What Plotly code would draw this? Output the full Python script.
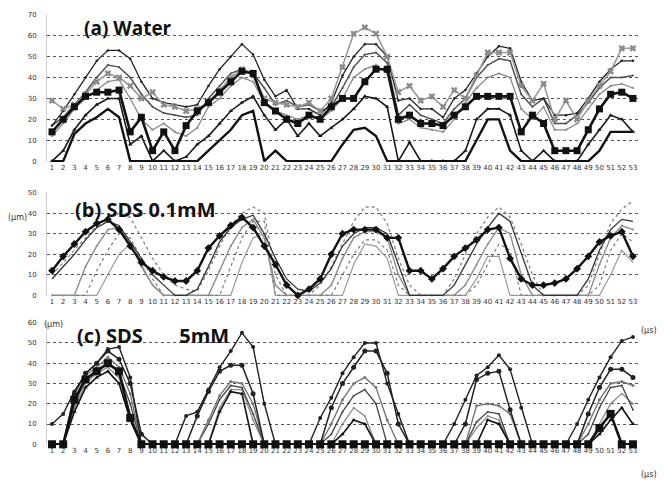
import plotly.graph_objects as go

# ---------------- data ----------------
x_vals = list(range(1, 54))
x_labels = [str(i) for i in x_vals]

# (a) Water  (μm)
a1 = [17,24,32,40,48,53,53,49,38,30,28,27,26,27,
      36,44,50,56,51,39,31,34,25,25,22,28,41,
      50,56,56,50,29,30,25,25,21,30,34,
      42,50,55,54,38,29,30,22,22,23,
      30,38,44,48,48]
a2 = [29,25,27,32,38,42,40,36,30,33,27,26,24,25,
      28,34,40,44,42,30,28,27,26,28,24,30,45,
      61,64,61,50,33,36,29,31,26,34,30,
      41,52,52,52,36,29,37,20,29,20,
      29,36,43,54,54]
a3 = [17,21,27,33,40,46,45,40,32,26,23,22,21,22,
      30,36,42,44,42,35,27,29,26,27,24,26,35,
      45,51,52,47,22,27,22,20,18,25,30,
      40,46,49,48,32,26,30,18,18,22,
      28,35,40,40,41]
a4 = [14,20,26,31,33,33,34,14,21,5,14,5,17,24,
      28,33,38,43,42,28,24,20,18,22,20,26,30,
      30,38,44,44,20,22,18,18,17,22,26,
      31,31,31,31,14,22,18,5,5,5,
      15,25,32,33,30]
a5 = [12,18,25,30,34,38,39,30,20,15,18,14,12,16,
      26,30,36,40,38,28,24,22,20,22,20,24,30,
      40,44,46,42,18,20,16,15,14,20,28,
      35,40,42,40,25,20,26,15,15,18,
      25,32,36,37,35]
a6 = [0,5,15,22,27,30,30,8,12,0,5,0,2,8,
      12,18,24,28,31,22,15,20,12,18,12,16,20,
      25,31,30,26,0,9,0,0,0,0,5,
      20,25,25,22,5,0,5,0,0,0,
      8,15,22,20,14]
a7 = [0,0,13,18,21,25,21,0,0,0,0,0,0,0,
      5,10,15,22,24,0,5,0,0,0,0,0,8,
      15,16,12,0,0,0,0,0,0,0,0,
      10,20,20,5,0,0,0,0,0,0,
      0,5,14,14,14]

# (b) SDS 0.1mM
b1 = [12,19,25,31,35,37,32,24,16,12,9,7,7,12,
      23,29,34,38,33,24,15,5,0,3,8,20,30,
      32,32,32,28,28,12,12,8,13,19,23,
      27,32,33,18,8,5,5,6,8,13,
      19,26,29,31,19]
b2 = [10,16,22,28,34,38,40,38,28,18,10,5,3,2,
      12,24,34,40,43,40,10,0,0,0,5,14,25,
      36,43,43,35,18,5,0,0,0,8,20,
      30,38,43,38,25,10,0,0,0,0,
      5,20,35,42,46]
b3 = [8,14,20,27,33,36,34,26,18,10,5,0,0,3,
      14,26,33,37,39,30,18,8,3,2,6,13,24,
      30,33,33,30,15,0,0,0,0,5,15,
      25,33,40,36,20,5,0,0,0,0,
      8,22,32,37,36]
b4 = [0,0,0,14,24,32,33,25,14,5,0,0,0,0,
      0,12,24,33,37,28,5,0,0,0,0,5,18,
      28,31,31,28,10,0,0,0,0,0,5,
      15,25,33,30,10,0,0,0,0,0,
      0,15,28,34,32]
b5 = [0,0,0,0,12,22,30,28,18,8,0,0,0,0,
      0,0,14,28,36,36,0,0,0,0,0,0,10,
      20,27,27,22,5,0,0,0,0,0,0,
      5,15,25,22,0,0,0,0,0,0,
      0,5,22,30,26]
b6 = [0,0,0,0,0,10,20,25,15,5,0,0,0,0,
      0,0,0,16,28,30,0,0,0,0,0,0,0,
      15,25,24,18,0,0,0,0,0,0,0,
      8,19,19,0,0,0,0,0,0,0,
      0,0,10,22,16]

# (c) SDS 5mM
c1 = [10,15,26,35,40,47,48,33,0,0,
      0,0,14,16,27,38,46,55,48,20,0,0,0,0,
      13,23,35,43,50,50,30,15,0,0,0,0,
      10,22,34,38,44,37,18,0,0,0,0,
      10,22,33,43,51,53]
c2 = [0,0,25,35,40,46,42,30,5,0,
      0,0,0,14,26,36,39,39,25,0,0,0,0,0,
      0,18,30,38,46,46,35,10,0,0,0,0,
      0,10,32,35,36,17,0,0,0,0,0,
      0,15,28,37,37,33]
c3 = [0,0,22,34,38,43,38,25,0,0,
      0,0,0,0,12,24,31,30,20,0,0,0,0,0,
      0,10,22,30,33,28,12,0,0,0,0,0,
      0,0,19,20,19,15,0,0,0,0,0,
      0,10,22,30,31,29]
c4 = [0,0,20,32,37,40,35,20,0,0,
      0,0,0,0,10,22,29,28,15,0,0,0,0,0,
      0,5,16,24,27,20,0,0,0,0,0,0,
      0,0,11,16,15,0,0,0,0,0,0,
      0,5,18,28,29,17]
c5 = [0,0,18,30,35,38,33,15,0,0,
      0,0,0,0,0,18,27,27,12,0,0,0,0,0,
      0,0,10,18,14,0,0,0,0,0,0,0,
      0,0,8,14,12,0,0,0,0,0,0,
      0,0,10,20,25,20]
c6 = [0,0,16,28,33,36,30,12,0,0,
      0,0,0,0,0,16,26,25,0,0,0,0,0,0,
      0,0,5,12,10,0,0,0,0,0,0,0,
      0,0,0,12,10,0,0,0,0,0,0,
      0,0,5,12,18,10]
c7 = [0,0,22,32,36,40,36,13,0,0,
      0,0,0,0,0,0,0,0,0,0,0,0,0,0,
      0,0,0,0,0,0,0,0,0,0,0,0,
      0,0,0,0,0,0,0,0,0,0,0,
      0,0,8,15,0,0]

# ---------------- figure ----------------
W, H = 665, 484
ML, MR = 47, 25
PW = W - ML - MR

fig = go.Figure()

def add(series, k, color, width, dash="solid", symbol=None, msize=4, mcolor=None):
    xa = "x" if k == 1 else "x%d" % k
    ya = "y" if k == 1 else "y%d" % k
    fig.add_trace(go.Scatter(
        x=x_vals, y=series, xaxis=xa, yaxis=ya,
        mode="lines+markers" if symbol else "lines",
        line=dict(color=color, width=width, dash=dash),
        marker=dict(symbol=symbol or "circle", size=msize,
                    color=mcolor or color),
        cliponaxis=False,
        showlegend=False, hoverinfo="skip"))

# panel (a)
add(a5, 1, "#8a8a8a", 1.3, symbol="triangle-up", msize=3)
add(a3, 1, "#505050", 1.5, symbol="circle", msize=2)
add(a1, 1, "#222222", 1.3, symbol="circle", msize=2.5)
add(a2, 1, "#9a9a9a", 1.6, symbol="x", msize=6, mcolor="#8a8a8a")
add(a6, 1, "#1a1a1a", 1.6, symbol="triangle-up", msize=4)
add(a4, 1, "#111111", 2.6, symbol="square", msize=7)
add(a7, 1, "#111111", 2.4)

# panel (b)
add(b6, 2, "#9a9a9a", 1.2)
add(b5, 2, "#7a7a7a", 1.2, dash="dot")
add(b4, 2, "#8c8c8c", 1.4, symbol="circle", msize=2)
add(b2, 2, "#8a8a8a", 1.4, dash="dot")
add(b3, 2, "#333333", 1.3)
add(b1, 2, "#111111", 2.4, symbol="diamond", msize=6)

# panel (c)
add(c5, 3, "#8a8a8a", 1.3, symbol="circle", msize=2)
add(c4, 3, "#444444", 1.3, symbol="circle", msize=2)
add(c3, 3, "#777777", 1.4, symbol="circle", msize=3)
add(c6, 3, "#111111", 1.6, symbol="triangle-up", msize=4)
add(c2, 3, "#222222", 1.5, symbol="circle", msize=5)
add(c1, 3, "#222222", 1.4, symbol="circle", msize=4)
add(c7, 3, "#111111", 2.6, symbol="square", msize=8)

def py2paper(py):
    return 1 - py / H

def px2paper(px):
    return (px - ML) / PW

xr = [0.55, 53.63]
common_x = dict(range=xr, tickmode="array", tickvals=x_vals, ticktext=x_labels,
                tickangle=0,
                tickfont=dict(family="DejaVu Sans", size=7, color="#333333"),
                showgrid=False, zeroline=False, showline=False, ticks="",
                domain=[0, 1], fixedrange=True)
common_y = dict(dtick=10, tick0=0, showgrid=True, gridcolor="#555555",
                griddash="dot", gridwidth=1, zeroline=False,
                showline=True, linecolor="#cccccc", linewidth=1, ticks="",
                tickfont=dict(family="DejaVu Sans", size=7, color="#333333"),
                ticklabelstandoff=8, fixedrange=True)

panels = [  # (top px, bottom px, ymax)
    (14, 162, 70),
    (192, 296, 50),
    (322, 445, 60),
]
layout = dict(width=W, height=H, margin=dict(l=ML, r=MR, t=0, b=0),
              paper_bgcolor="white", plot_bgcolor="white", template="none",
              showlegend=False)
for k, (top, bot, ymax) in enumerate(panels, start=1):
    suf = "" if k == 1 else str(k)
    pad = ymax * 0.006
    layout["xaxis" + suf] = dict(common_x, anchor="y" + suf)
    layout["yaxis" + suf] = dict(common_y, anchor="x" + suf,
                                 domain=[py2paper(bot), py2paper(top)],
                                 range=[-pad, ymax + pad])
fig.update_layout(**layout)

title_font = dict(family="Open Sans", size=20, color="#111111")
small = dict(family="DejaVu Sans", size=8, color="#333333")
ann = [
    dict(text="<b>(a) Water</b>", x=px2paper(82), y=py2paper(28), xanchor="left",
         font=dict(title_font, size=19)),
    dict(text="<b>(b) SDS 0.1mM</b>", x=px2paper(73), y=py2paper(209), xanchor="left", font=title_font),
    dict(text="<b>(c) SDS&nbsp;&nbsp;&nbsp;&nbsp;&nbsp;&nbsp;&nbsp;5mM</b>", x=px2paper(75), y=py2paper(335),
         xanchor="left", font=title_font),
    dict(text="(μm)", x=px2paper(6), y=py2paper(217), xanchor="left", font=small),
    dict(text="(μm)", x=px2paper(42), y=py2paper(324), xanchor="left", font=small),
    dict(text="(μs)", x=px2paper(639), y=py2paper(330), xanchor="left", font=small),
    dict(text="(μs)", x=px2paper(639), y=py2paper(474), xanchor="left", font=small),
]
for a in ann:
    a.update(xref="paper", yref="paper", yanchor="middle", showarrow=False)
fig.update_layout(annotations=ann)

fig.write_html("out.html", config={"displayModeBar": False},
               post_script="document.body.style.margin='0';document.body.style.overflow='hidden';")
